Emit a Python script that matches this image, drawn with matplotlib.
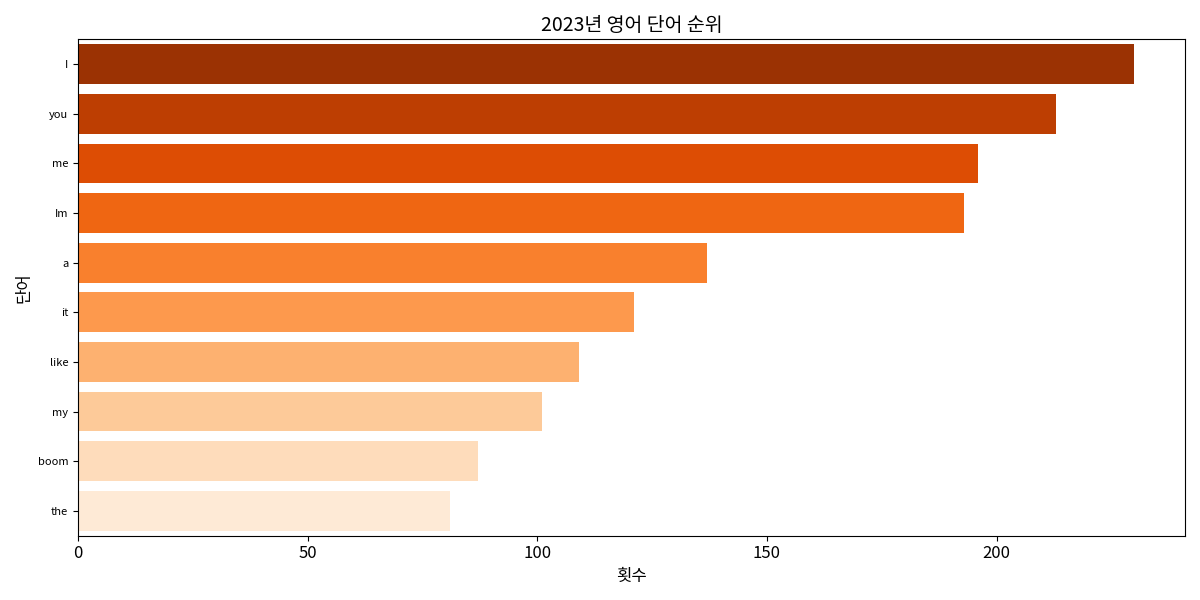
import matplotlib
matplotlib.use("Agg")
import matplotlib.pyplot as plt
import seaborn as sns

words = ["I", "you", "me", "Im", "a", "it", "like", "my", "boom", "the"]
counts = [230, 213, 196, 193, 137, 121, 109, 101, 87, 81]

plt.rcParams['font.family'] = ['Noto Sans CJK KR', 'DejaVu Sans']
fig, ax = plt.subplots(figsize=(12, 6), dpi=100)
colors = sns.color_palette("Oranges_r", len(words))
ax.barh(words, counts, color=colors, height=0.8)
ax.set_ylim(len(words) - 0.5, -0.5)
ax.set_xlim(0, 241)
ax.set_title("2023년 영어 단어 순위", fontsize=14)
ax.set_xlabel("횟수", fontsize=12)
ax.set_ylabel("단어", fontsize=12)
ax.tick_params(axis='y', labelsize=8)
ax.tick_params(axis='x', labelsize=12)
fig.tight_layout()
fig.savefig("out.png")
